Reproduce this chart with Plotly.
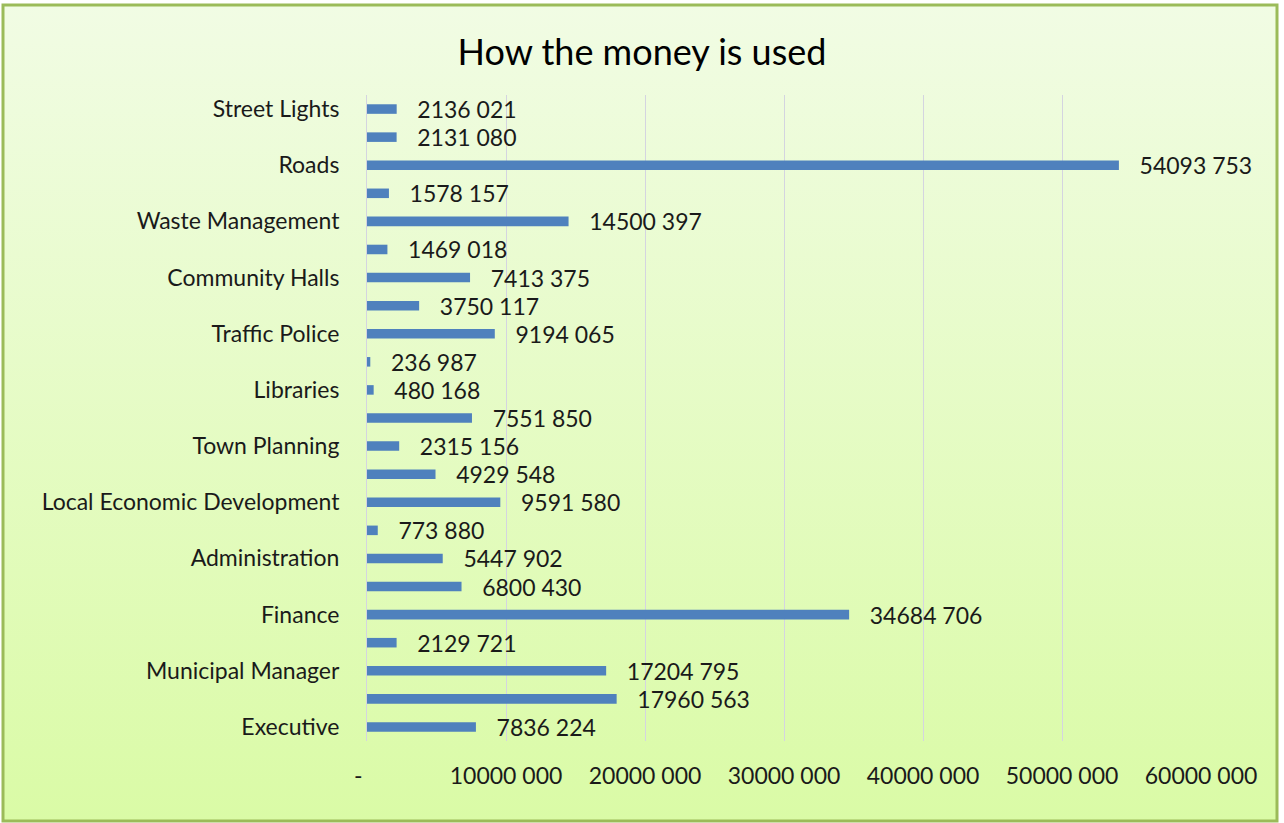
import base64
import plotly.graph_objects as go

# ---- data (bottom to top) ----
labels = ["Executive", "", "Municipal Manager", "", "Finance", "", "Administration", "",
          "Local Economic Development", "", "Town Planning", "", "Libraries", "",
          "Traffic Police", "", "Community Halls", "", "Waste Management", "",
          "Roads", "", "Street Lights"]
values = [7836224, 17960563, 17204795, 2129721, 34684706, 6800430, 5447902, 773880,
          9591580, 4929548, 2315156, 7551850, 480168, 236987, 9194065, 3750117,
          7413375, 1469018, 14500397, 1578157, 54093753, 2131080, 2136021]
x_tickvals = [0, 10000000, 20000000, 30000000, 40000000, 50000000, 60000000]
x_ticktext = ["-\u00a0\u00a0\u00a0", "10000 000", "20000 000", "30000 000", "40000 000", "50000 000", "60000 000"]
title = "How the money is used"


def fmt(v):
    return f"{v // 1000} {v % 1000:03d}" if v >= 1000 else str(v)


positions = list(range(len(labels)))
W, H = 1284, 823
L, R, T, B = 367, 83, 95, 82
pw, ph = W - L - R, H - T - B
FONT = "Lato, 'Open Sans', sans-serif"
FS = 23

fig = go.Figure(go.Bar(
    x=values, y=positions, orientation="h",
    marker=dict(color="#4f81bd", line=dict(width=0)),
    width=0.34,
    text=["\u00a0\u00a0\u00a0" + fmt(v) for v in values],
    textposition="outside", constraintext="none", cliponaxis=False,
    textfont=dict(family=FONT, size=FS, color="#1a1a1a"),
    hoverinfo="skip",
))

# gradient background as svg image
svg = ('<svg xmlns="http://www.w3.org/2000/svg" width="100" height="100" preserveAspectRatio="none">'
       '<defs><linearGradient id="g" x1="0" y1="0" x2="0" y2="1">'
       '<stop offset="0" stop-color="#f1fce4"/><stop offset="1" stop-color="#dafba6"/>'
       '</linearGradient></defs><rect width="100" height="100" fill="url(#g)"/></svg>')
uri = "data:image/svg+xml;base64," + base64.b64encode(svg.encode()).decode()


def px2x(p):
    return (p - L) / pw


def py2y(p):
    return (H - B - p) / ph


bx0, by0, bx1, by1 = 3, 5, 1277, 821
fig.add_layout_image(dict(source=uri, xref="paper", yref="paper",
                          x=px2x(bx0), y=py2y(by0), sizex=(bx1 - bx0) / pw, sizey=(by1 - by0) / ph,
                          sizing="stretch", xanchor="left", yanchor="top", layer="below"))
fig.add_shape(type="rect", xref="paper", yref="paper",
              x0=px2x(bx0), x1=px2x(bx1), y0=py2y(by1), y1=py2y(by0),
              line=dict(color="#9bbb59", width=3), fillcolor="rgba(0,0,0,0)", layer="above")

fig.update_layout(
    width=W, height=H, margin=dict(l=L, r=R, t=T, b=B),
    paper_bgcolor="white", plot_bgcolor="rgba(0,0,0,0)",
    showlegend=False,
    title=dict(text=title, x=0.5, xref="container", xanchor="center", y=1 - 52 / H, yanchor="middle",
               font=dict(family=FONT, size=36, color="#000000")),
    font=dict(family=FONT, color="#1a1a1a"),
    xaxis=dict(range=[0, 60000000], tickvals=x_tickvals, ticktext=x_ticktext,
               showgrid=True, gridcolor="#d4d4e0", gridwidth=1, zeroline=False,
               showline=False, ticks="", tickfont=dict(size=FS, family=FONT, color="#1a1a1a"),
               ticklabelstandoff=19, fixedrange=True),
    yaxis=dict(range=[-0.5, len(labels) - 0.5],
               tickvals=[p for p, l in zip(positions, labels) if l],
               ticktext=[l for l in labels if l],
               showgrid=False, zeroline=False, showline=True, linecolor="#d4d4e0", linewidth=1,
               ticks="", tickfont=dict(size=FS, family=FONT, color="#1a1a1a"),
               ticklabelstandoff=22, fixedrange=True),
)

fig.write_html("out.html", config={"displayModeBar": False},
               post_script="document.body.style.margin='0';document.body.style.overflow='hidden';")
